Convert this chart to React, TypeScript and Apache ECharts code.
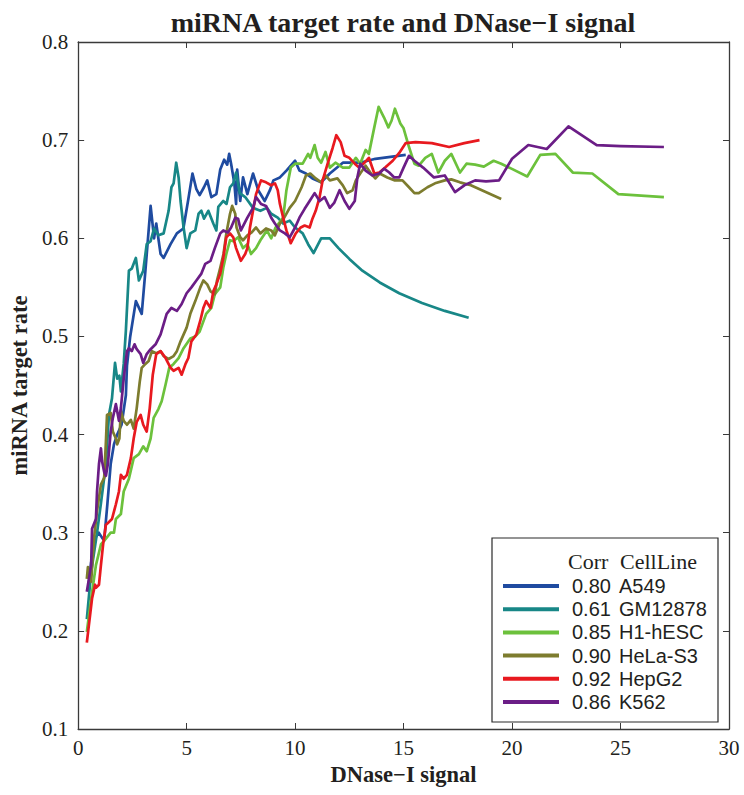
import React, { useEffect, useRef } from "react";
import * as echarts from "echarts";

const cellLines = ["A549", "GM12878", "H1-hESC", "HeLa-S3", "HepG2", "K562"];
const corrs = ["0.80", "0.61", "0.85", "0.90", "0.92", "0.86"];
const colors = ["#1f4ba0", "#188787", "#6cc13c", "#7d7c2e", "#e8191f", "#6b1d86"];

const xTicks = [0, 5, 10, 15, 20, 25, 30];
const yTicks = [0.1, 0.2, 0.3, 0.4, 0.5, 0.6, 0.7, 0.8];

const a549X = [0.45,0.6,0.8,0.95,1.1,1.2,1.35,1.5,1.65,1.8,2.0,2.2,2.25,2.4,2.66,2.93,3.1,3.34,3.5,3.6,3.8,3.94,4.26,4.55,4.85,5.08,5.27,5.45,5.6,5.8,5.95,6.14,6.37,6.55,6.73,6.87,6.96,7.05,7.2,7.28,7.33,7.47,7.6,7.8,8.06,8.3,8.6,8.84,9.0,9.3,9.6,10.0,10.2,10.5,10.8,11.2,11.6,12.2,13.0,13.7,15.1];
const a549Y = [0.24,0.27,0.295,0.3,0.295,0.292,0.33,0.37,0.39,0.4,0.41,0.44,0.47,0.5,0.536,0.523,0.567,0.633,0.6,0.615,0.584,0.58,0.594,0.605,0.61,0.64,0.666,0.65,0.644,0.652,0.659,0.642,0.645,0.67,0.68,0.675,0.686,0.676,0.656,0.635,0.67,0.638,0.662,0.645,0.666,0.649,0.638,0.649,0.659,0.662,0.669,0.679,0.669,0.666,0.661,0.657,0.666,0.677,0.677,0.681,0.685];

const gmX = [0.4,0.6,0.87,1.05,1.28,1.42,1.56,1.7,1.8,1.9,1.97,2.1,2.2,2.34,2.47,2.66,2.8,3.0,3.16,3.34,3.5,3.7,3.94,4.17,4.3,4.4,4.52,4.63,4.72,4.86,5.0,5.17,5.4,5.55,5.68,5.8,6.0,6.23,6.37,6.46,6.69,6.84,7.0,7.15,7.28,7.45,7.7,8.06,8.4,8.7,8.9,9.2,9.45,9.75,10.0,10.35,10.6,10.85,11.2,11.6,12.0,12.5,13.1,13.9,14.8,15.85,16.9,18.0];
const gmY = [0.212,0.26,0.3,0.33,0.37,0.42,0.437,0.473,0.457,0.46,0.444,0.472,0.506,0.567,0.569,0.58,0.557,0.567,0.594,0.597,0.61,0.603,0.605,0.628,0.652,0.656,0.677,0.662,0.638,0.611,0.59,0.605,0.608,0.625,0.628,0.62,0.628,0.615,0.608,0.632,0.638,0.635,0.652,0.656,0.667,0.646,0.642,0.631,0.628,0.631,0.625,0.621,0.615,0.618,0.611,0.605,0.594,0.585,0.6,0.6,0.59,0.579,0.567,0.555,0.544,0.534,0.526,0.519];

const h1X = [0.4,0.6,0.82,1.05,1.28,1.5,1.65,1.74,1.97,2.1,2.34,2.56,2.8,3.0,3.16,3.34,3.48,3.7,3.85,4.03,4.2,4.4,4.63,4.86,5.17,5.4,5.6,5.9,6.14,6.3,6.55,6.69,6.83,7.0,7.15,7.37,7.6,7.8,7.97,8.2,8.4,8.7,8.9,9.1,9.45,9.6,9.8,10.0,10.35,10.6,10.7,10.9,11.04,11.2,11.4,11.6,11.86,12.2,12.5,12.8,13.0,13.25,13.4,13.65,13.85,14.1,14.3,14.45,14.6,14.85,15.0,15.25,15.5,15.7,16.0,16.3,16.6,16.9,17.2,17.6,17.9,18.3,18.7,19.15,19.5,19.97,20.7,21.3,22.0,22.8,23.7,24.9,27.0];
const h1Y = [0.199,0.233,0.267,0.288,0.294,0.3,0.3,0.314,0.319,0.342,0.355,0.376,0.38,0.388,0.383,0.396,0.417,0.426,0.434,0.451,0.468,0.472,0.478,0.488,0.498,0.5,0.505,0.523,0.529,0.543,0.55,0.57,0.584,0.598,0.597,0.601,0.59,0.594,0.584,0.59,0.598,0.608,0.6,0.611,0.621,0.649,0.672,0.676,0.676,0.686,0.682,0.695,0.682,0.677,0.688,0.672,0.677,0.672,0.672,0.682,0.676,0.69,0.686,0.713,0.734,0.723,0.713,0.72,0.732,0.717,0.712,0.693,0.676,0.674,0.682,0.686,0.667,0.679,0.686,0.667,0.676,0.675,0.673,0.679,0.676,0.671,0.663,0.685,0.686,0.667,0.666,0.645,0.642];

const helaX = [0.4,0.45,0.6,0.73,0.87,1.05,1.2,1.28,1.33,1.5,1.6,1.74,1.8,1.9,1.97,2.1,2.25,2.43,2.56,2.7,2.84,2.93,3.1,3.25,3.4,3.6,3.8,3.94,4.17,4.4,4.55,4.72,5.0,5.17,5.4,5.63,5.77,5.95,6.1,6.3,6.4,6.55,6.7,6.83,7.0,7.1,7.24,7.3,7.47,7.6,7.8,8.0,8.2,8.4,8.66,8.9,9.07,9.3,9.5,9.75,10.0,10.3,10.5,10.7,10.95,11.2,11.4,11.6,11.95,12.2,12.4,12.65,12.8,13.0,13.25,13.5,13.7,13.9,14.25,14.6,14.95,15.25,15.5,15.7,16.1,16.45,16.9,17.2,17.6,18.1,19.5];
const helaY = [0.253,0.265,0.25,0.294,0.322,0.349,0.356,0.393,0.42,0.422,0.403,0.396,0.39,0.396,0.424,0.414,0.41,0.415,0.406,0.427,0.454,0.468,0.472,0.475,0.485,0.483,0.485,0.48,0.477,0.48,0.485,0.495,0.509,0.523,0.536,0.55,0.557,0.553,0.546,0.543,0.557,0.57,0.584,0.605,0.625,0.633,0.625,0.611,0.601,0.598,0.603,0.606,0.611,0.605,0.61,0.608,0.603,0.615,0.621,0.631,0.638,0.652,0.664,0.666,0.661,0.657,0.664,0.659,0.661,0.654,0.646,0.649,0.659,0.666,0.674,0.666,0.661,0.666,0.662,0.659,0.659,0.652,0.646,0.646,0.652,0.656,0.659,0.66,0.657,0.654,0.64];

const hepX = [0.4,0.55,0.64,0.78,0.83,0.96,1.05,1.15,1.28,1.42,1.56,1.74,1.88,1.97,2.1,2.25,2.43,2.56,2.7,2.88,3.0,3.16,3.3,3.44,3.6,3.8,4.03,4.26,4.4,4.63,4.77,4.95,5.08,5.22,5.45,5.63,5.77,5.9,6.1,6.23,6.37,6.55,6.69,6.83,7.0,7.15,7.28,7.5,7.7,7.8,7.92,8.06,8.2,8.43,8.66,8.9,9.07,9.2,9.3,9.45,9.6,9.8,10.03,10.26,10.44,10.67,10.8,10.95,11.13,11.27,11.5,11.73,11.9,12.1,12.28,12.5,12.75,12.95,13.2,13.4,13.65,13.88,14.15,14.5,14.8,15.1,15.55,16.3,17.1,17.8,18.5];
const hepY = [0.188,0.216,0.233,0.247,0.244,0.247,0.267,0.288,0.308,0.311,0.314,0.329,0.342,0.359,0.355,0.359,0.376,0.396,0.413,0.42,0.41,0.403,0.427,0.461,0.482,0.485,0.478,0.468,0.465,0.468,0.461,0.472,0.478,0.495,0.502,0.516,0.529,0.536,0.529,0.546,0.553,0.564,0.58,0.601,0.605,0.601,0.59,0.577,0.584,0.59,0.611,0.628,0.645,0.659,0.657,0.654,0.656,0.649,0.635,0.621,0.608,0.595,0.605,0.611,0.613,0.611,0.62,0.628,0.642,0.659,0.676,0.692,0.705,0.698,0.684,0.682,0.676,0.672,0.677,0.682,0.666,0.667,0.672,0.679,0.687,0.697,0.698,0.697,0.693,0.697,0.7];

const k562X = [0.4,0.6,0.64,0.82,0.87,0.96,1.05,1.1,1.2,1.28,1.37,1.5,1.6,1.74,1.88,1.97,2.1,2.25,2.34,2.47,2.6,2.7,2.88,3.0,3.16,3.34,3.57,3.8,4.08,4.3,4.55,4.77,5.0,5.22,5.45,5.68,5.86,6.1,6.3,6.55,6.69,6.9,7.05,7.24,7.37,7.5,7.8,8.06,8.2,8.43,8.66,8.9,9.07,9.3,9.53,9.75,10.0,10.2,10.44,10.67,10.9,11.13,11.36,11.6,11.8,12.05,12.28,12.5,12.75,12.87,13.0,13.25,13.56,13.88,14.1,14.34,14.57,14.8,15.0,15.25,15.5,15.9,16.4,16.9,17.37,17.8,18.3,18.8,19.4,20.0,20.75,21.6,22.6,23.9,25.0,27.0];
const k562Y = [0.24,0.267,0.304,0.314,0.342,0.37,0.386,0.373,0.362,0.358,0.37,0.403,0.417,0.431,0.414,0.427,0.457,0.485,0.488,0.485,0.492,0.487,0.482,0.473,0.482,0.487,0.492,0.502,0.523,0.529,0.526,0.533,0.544,0.55,0.557,0.564,0.574,0.577,0.59,0.605,0.608,0.606,0.611,0.621,0.62,0.608,0.621,0.631,0.642,0.635,0.633,0.621,0.615,0.608,0.605,0.601,0.611,0.621,0.63,0.638,0.646,0.638,0.642,0.631,0.636,0.649,0.638,0.63,0.638,0.662,0.676,0.669,0.664,0.666,0.671,0.667,0.662,0.662,0.672,0.684,0.679,0.672,0.662,0.664,0.647,0.654,0.659,0.658,0.659,0.681,0.695,0.691,0.714,0.695,0.694,0.693];

const seriesX = [a549X, gmX, h1X, helaX, hepX, k562X];
const seriesY = [a549Y, gmY, h1Y, helaY, hepY, k562Y];

const SERIF = "'Liberation Serif', 'Times New Roman', serif";
const SANS = "'Liberation Sans', Arial, sans-serif";

export default function App() {
  const ref = useRef<HTMLDivElement>(null);
  useEffect(() => {
    if (!ref.current) return;
    const chart = echarts.init(ref.current, null, { renderer: "svg" });
    const axisCommon = {
      type: "value" as const,
      axisLine: { show: true, onZero: false, lineStyle: { color: "#3a3a3a", width: 1.3 } },
      axisTick: { show: true, inside: true, length: 6, lineStyle: { color: "#3a3a3a", width: 1 } },
      splitLine: { show: false },
    };
    const corrMap: Record<string, string> = {};
    cellLines.forEach((c, i) => (corrMap[c] = corrs[i]));
    chart.setOption({
      animation: false,
      backgroundColor: "#ffffff",
      title: {
        text: "miRNA target rate and DNase\u2212I signal",
        left: 398,
        top: 3,
        textAlign: "center",
        textStyle: { fontFamily: SERIF, fontWeight: "bold", fontSize: 28, color: "#231f20" },
      },
      grid: { left: 74, right: 15, top: 42, bottom: 66, containLabel: false },
      xAxis: [
        {
          ...axisCommon,
          min: xTicks[0],
          max: xTicks[xTicks.length - 1],
          interval: 5,
          position: "bottom",
          name: "DNase\u2212I signal",
          nameLocation: "middle",
          nameGap: 34,
          nameTextStyle: { fontFamily: SERIF, fontWeight: "bold", fontSize: 22.5, color: "#231f20" },
          axisLabel: { fontFamily: SERIF, fontSize: 21, color: "#231f20", margin: 8 },
        },
        {
          ...axisCommon,
          min: xTicks[0],
          max: xTicks[xTicks.length - 1],
          interval: 5,
          position: "top",
          axisLabel: { show: false },
        },
      ],
      yAxis: [
        {
          ...axisCommon,
          min: yTicks[0],
          max: yTicks[yTicks.length - 1],
          interval: 0.1,
          position: "left",
          name: "miRNA target rate",
          nameLocation: "middle",
          nameGap: 41,
          nameTextStyle: { fontFamily: SERIF, fontWeight: "bold", fontSize: 22.5, color: "#231f20" },
          axisLabel: {
            fontFamily: SERIF,
            fontSize: 21,
            color: "#231f20",
            margin: 10,
            formatter: (v: number) => v.toFixed(1),
          },
        },
        {
          ...axisCommon,
          min: yTicks[0],
          max: yTicks[yTicks.length - 1],
          interval: 0.1,
          position: "right",
          axisLabel: { show: false },
        },
      ],
      legend: {
        orient: "vertical",
        left: 503,
        top: 576,
        padding: 0,
        itemWidth: 56,
        itemHeight: 4,
        itemGap: 3.2,
        icon: "rect",
        selectedMode: false,
        z: 10,
        data: cellLines,
        formatter: (name: string) => `{c|${corrMap[name]}}{n|${name}}`,
        textStyle: {
          fontFamily: SANS,
          fontSize: 20,
          color: "#231f20",
          lineHeight: 20,
          rich: {
            c: { fontFamily: SANS, fontSize: 20, color: "#231f20", width: 47, lineHeight: 20, padding: [0, 0, 0, 8] },
            n: { fontFamily: SANS, fontSize: 20, color: "#231f20", lineHeight: 20 },
          },
        },
      },
      graphic: [
        {
          type: "rect",
          z: 5,
          shape: { x: 492, y: 538, width: 226, height: 184 },
          style: { fill: "#ffffff", stroke: "#2a2a2a", lineWidth: 1.2 },
        },
        {
          type: "text",
          z: 6,
          style: { x: 568, y: 561, text: "Corr", fill: "#231f20", font: `22px ${SERIF}`, verticalAlign: "middle" },
        },
        {
          type: "text",
          z: 6,
          style: { x: 620, y: 561, text: "CellLine", fill: "#231f20", font: `22px ${SERIF}`, verticalAlign: "middle" },
        },
      ],
      series: cellLines.map((name, i) => ({
        name,
        type: "line",
        xAxisIndex: 0,
        yAxisIndex: 0,
        showSymbol: false,
        symbol: "none",
        color: colors[i],
        lineStyle: { color: colors[i], width: 2.7, join: "round" },
        data: seriesX[i].map((x, j) => [x, seriesY[i][j]]),
        z: 2,
      })),
    });
    return () => chart.dispose();
  }, []);
  return (
    <div
      ref={ref}
      style={{ position: "fixed", left: 0, top: 0, width: 744, height: 795, background: "#fff" }}
    />
  );
}
